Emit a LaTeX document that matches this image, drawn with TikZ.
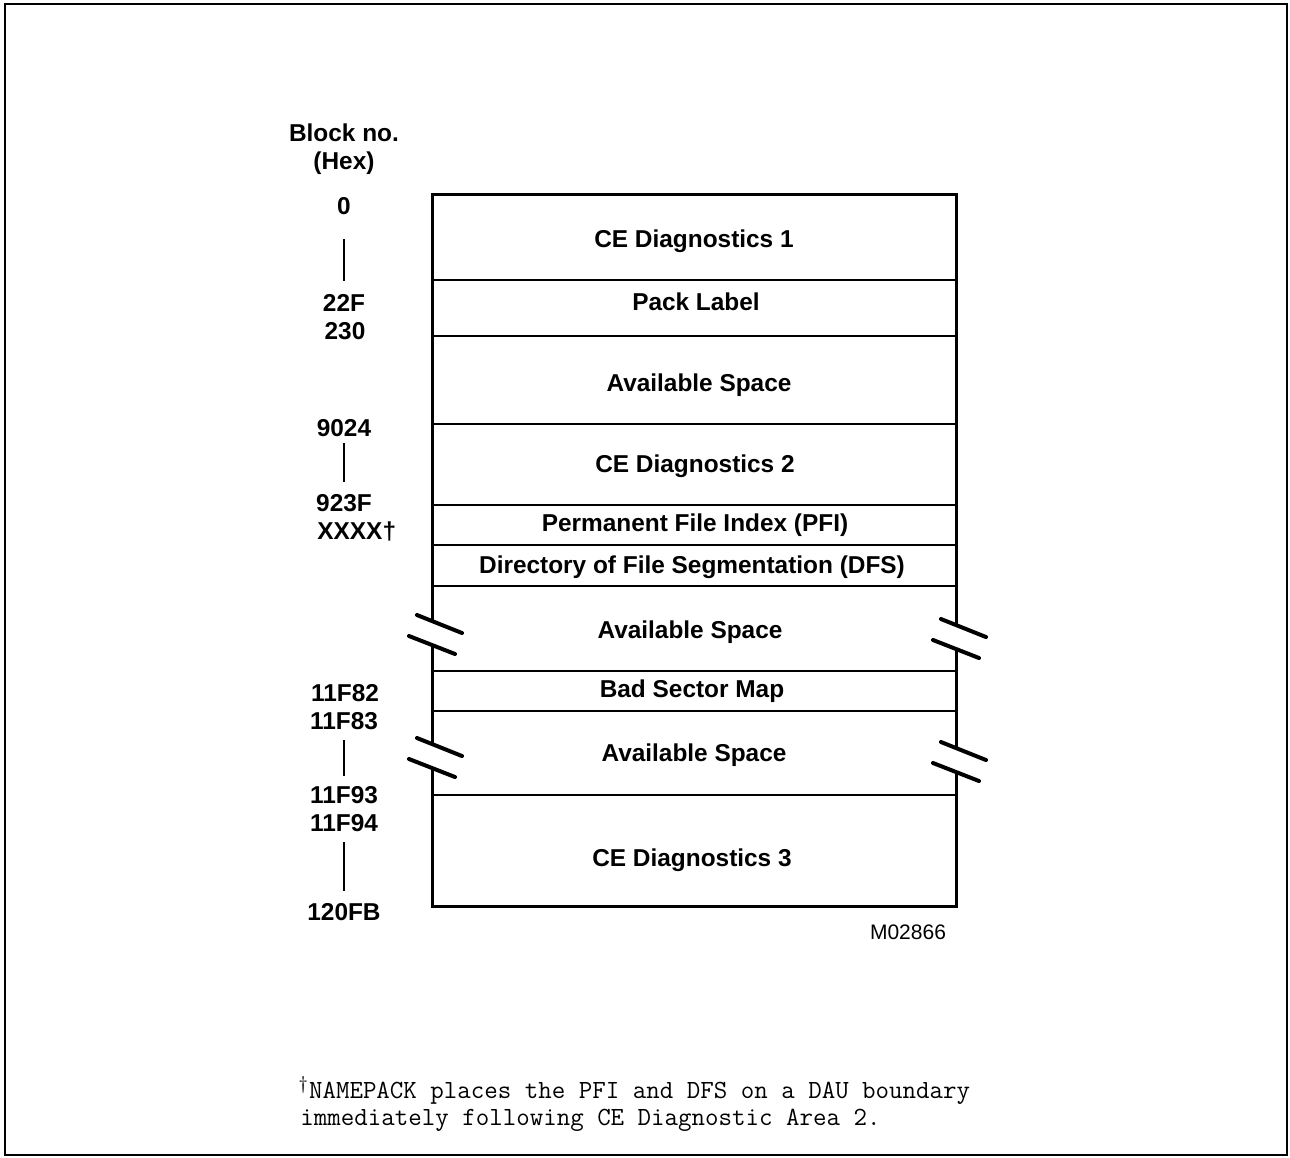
\documentclass[tikz,border=0pt]{standalone}
\usepackage{fontspec}
\setmainfont{Liberation Sans}

\begin{document}
\begin{tikzpicture}[
    x=0.5pt, y=-0.5pt,
    sect/.style={font=\fontsize{12.2}{14}\selectfont\bfseries, inner sep=0pt},
    blk/.style={font=\fontsize{12.2}{14}\selectfont\bfseries, inner sep=0pt},
    tick/.style={line width=1pt},
    brk/.style={line width=2pt, line cap=round},
    note/.style={font=\fontsize{13.1}{13.5}\selectfont\ttfamily, inner sep=0pt, anchor=base west}
]
    \useasboundingbox (0,0) rectangle (1290,1157);
    % Frame
    \draw[line width=1pt] (5,4) rectangle (1287,1155);

    % 1. Pack layout (outline and section lines)
    \draw[line width=1.5pt] (432,194) rectangle (956,906);
    \foreach \y in {280,336,424,505,545,586,671,711,795}
        \draw[line width=1.2pt] (432,\y) -- (956,\y);

    % Break marks on both edges
    \foreach \n/\x/\y in {brkla/432/633, brklb/432/756, brkra/956/637, brkrb/956/760} {
        \coordinate (\n) at (\x,\y);
        \fill[white] (\n) ++(-5,-12) rectangle ++(10,24);
        \draw[brk] (\n) ++(-15,-18) -- ++(45,18);
        \draw[brk] (\n) ++(-23,3) -- ++(46,18);
    }

    % 2. Section names
    \node[sect] (ce1)   at (694,241) {CE Diagnostics 1};
    \node[sect] (pack)  at (696,302) {Pack Label};
    \node[sect] (avla)  at (699,385) {Available Space};
    \node[sect] (ce2)   at (695,466) {CE Diagnostics 2};
    \node[sect] (pfi)   at (695,525) {Permanent File Index (PFI)};
    \node[sect] (dfs)   at (692,567) {Directory of File Segmentation (DFS)};
    \node[sect] (avlb)  at (690,632) {Available Space};
    \node[sect] (bsm)   at (692,691) {Bad Sector Map};
    \node[sect] (avlc)  at (694,755) {Available Space};
    \node[sect] (ce3)   at (692,860) {CE Diagnostics 3};

    % 3. Block numbers
    \node[blk] (head) at (344,133) {Block no.};
    \node[blk] (hex)  at (344,163) {(Hex)};
    \node[blk] (b0)     at (344,206) {0};
    \node[blk] (b22F)   at (344,303) {22F};
    \node[blk] (b230)   at (345,331) {230};
    \node[blk] (b9024)  at (344,428) {9024};
    \node[blk] (b923F)  at (344,503) {923F};
    \node[blk, anchor=west] (bxxxx) at (317,531) {XXXX†};
    \node[blk] (b11F82) at (345,693) {11F82};
    \node[blk] (b11F83) at (344,721) {11F83};
    \node[blk] (b11F93) at (344,795) {11F93};
    \node[blk] (b11F94) at (344,823) {11F94};
    \node[blk] (b120FB) at (344,912) {120FB};

    % Range ticks
    \draw[tick, shorten <=12pt, shorten >=6.5pt] (b0.south) -- (b22F.north);
    \draw[tick, shorten <=3pt, shorten >=6pt] (b9024.south) -- (b923F.north);
    \draw[tick, shorten <=5pt, shorten >=5pt] (b11F83.south) -- (b11F93.north);
    \draw[tick, shorten <=5pt, shorten >=6pt] (b11F94.south) -- (b120FB.north);

    % Figure number and footnote
    \node[font=\fontsize{10.5}{12}\selectfont, inner sep=0pt] (fig) at (908,932) {M02866};
    \node[note] (notea) at (298,1098) {\textsuperscript{†}NAMEPACK places the PFI and DFS on a DAU boundary};
    \node[note] (noteb) at (300,1125) {immediately following CE Diagnostic Area 2.};
\end{tikzpicture}
\end{document}
